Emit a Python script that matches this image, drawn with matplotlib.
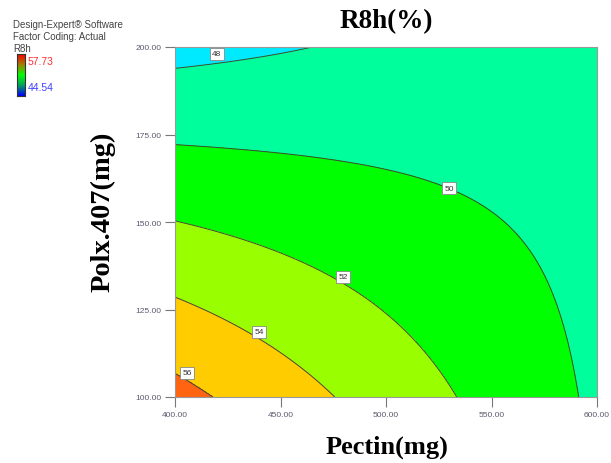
import numpy as np
import matplotlib
matplotlib.use("Agg")
import matplotlib.pyplot as plt
from matplotlib.colors import LinearSegmentedColormap

# Factor ranges (actual units)
pectin_range = [400.0, 600.0]
polx_range = [100.0, 200.0]

# Fitted response model for R8h in coded factors (A = Pectin, B = Polx.407)
coef_intercept = 50.73
coef_A = -1.30
coef_B = -2.43
coef_AB = 2.16

# Contour levels and band colours
line_levels = [48, 50, 52, 54, 56]
fill_levels = [40, 48, 50, 52, 54, 56, 60]
band_colors = ["#00eaff", "#00ff9c", "#00ff00", "#99ff00", "#ffcc00", "#ff6410"]

# Contour label anchor points (Pectin, Polx.407)
label_points = [(419.8, 198.0), (529.9, 159.7), (479.6, 134.3), (439.8, 118.6), (405.8, 106.9)]

x_ticks = [400, 450, 500, 550, 600]
y_ticks = [100, 125, 150, 175, 200]

design_min = 44.54
design_max = 57.73

# Grid and response surface
pectin = np.linspace(pectin_range[0], pectin_range[1], 301)
polx = np.linspace(polx_range[0], polx_range[1], 301)
P, X = np.meshgrid(pectin, polx)
A = (P - 500.0) / 100.0
B = (X - 150.0) / 50.0
R = coef_intercept + coef_A * A + coef_B * B + coef_AB * A * B

W, H = 611, 464
fig = plt.figure(figsize=(W / 100, H / 100), dpi=100)
ax = fig.add_axes([175 / W, 1 - 398 / H, 422 / W, 350 / H])

ax.contourf(P, X, R, levels=fill_levels, colors=band_colors)
cs = ax.contour(P, X, R, levels=line_levels, colors="#3b4a3b", linewidths=0.7)
labels = ax.clabel(cs, fmt="%d", inline=False, fontsize=6, manual=label_points,
                   colors="#333333")
# Horizontal boxed labels sitting at the anchor points
for t in labels:
    val = int(round(float(t.get_text())))
    px, py = label_points[line_levels.index(val)]
    t.set_position((px, py))
    t.set_rotation(0)
    t.set_family("Liberation Sans")
    t.set_bbox(dict(facecolor="white", edgecolor="#888888", linewidth=0.6,
                    boxstyle="square,pad=0.3"))
    t.set_clip_on(True)

ax.set_xlim(pectin_range)
ax.set_ylim(polx_range)
ax.set_xticks(x_ticks)
ax.set_yticks(y_ticks)
ax.set_xticklabels([f"{v:.2f}" for v in x_ticks])
ax.set_yticklabels([f"{v:.2f}" for v in y_ticks])
ax.tick_params(direction="out", length=7, width=0.8, color="#777777",
               labelsize=6, labelcolor="#5a5a6e", pad=3)
for lab in ax.get_xticklabels() + ax.get_yticklabels():
    lab.set_family("Liberation Sans")
for s in ax.spines.values():
    s.set_color("#999999")
    s.set_linewidth(0.8)

# Titles
fig.text(386 / W, 1 - 22 / H, "R8h(%)", ha="center", va="center",
         family="Liberation Serif", weight="bold", fontsize=19.5)
fig.text(387 / W, 1 - 447 / H, "Pectin(mg)", ha="center", va="center",
         family="Liberation Serif", weight="bold", fontsize=19)
fig.text(103 / W, 1 - 212 / H, "Polx.407(mg)", ha="center", va="center", rotation=90,
         family="Liberation Serif", weight="bold", fontsize=20.5)

# Software header
header = ["Design-Expert\u00ae Software", "Factor Coding: Actual", "R8h"]
for i, line in enumerate(header):
    fig.text(13 / W, 1 - (25 + 12 * i) / H, line, ha="left", va="center",
             family="Liberation Sans", fontsize=7, color="#444444")

# Colour scale bar
cax = fig.add_axes([17 / W, 1 - 97 / H, 8 / W, 42 / H])
grad_cmap = LinearSegmentedColormap.from_list(
    "scale", ["#0000ff", "#00a060", "#00ff00", "#a08000", "#ff0000"])
cax.imshow(np.linspace(0, 1, 100)[:, None], aspect="auto", cmap=grad_cmap, origin="lower")
cax.set_xticks([])
cax.set_yticks([])
for s in cax.spines.values():
    s.set_color("#333333")
    s.set_linewidth(0.8)
fig.text(28 / W, 1 - 62 / H, f"{design_max:.2f}", ha="left", va="center",
         family="Liberation Sans", fontsize=7.5, color="#ff3030")
fig.text(28 / W, 1 - 88 / H, f"{design_min:.2f}", ha="left", va="center",
         family="Liberation Sans", fontsize=7.5, color="#4040ff")

fig.savefig("out.png", dpi=100)
